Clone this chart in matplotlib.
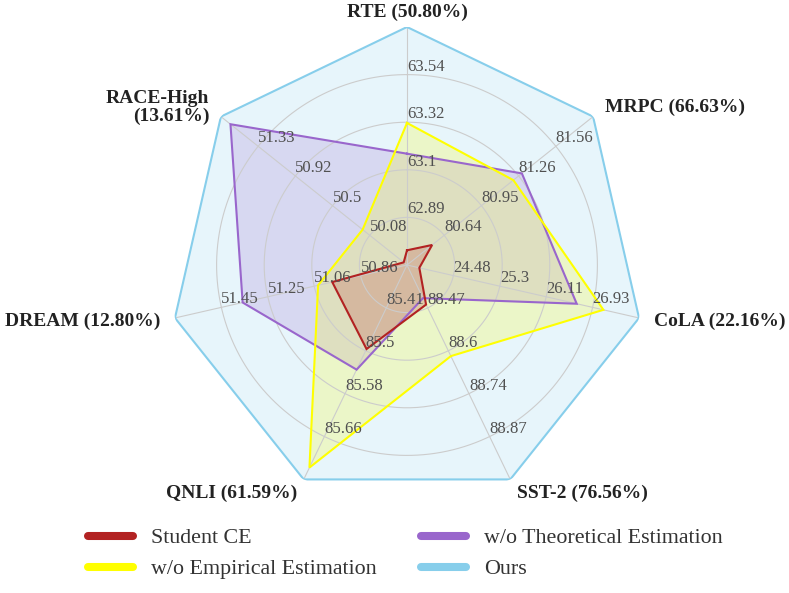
import numpy as np
import matplotlib
matplotlib.use('Agg')
import matplotlib.pyplot as plt
from matplotlib.lines import Line2D

plt.rcParams['font.family'] = ['Liberation Serif', 'DejaVu Serif']

# ---------------- data ----------------
axis_names = ['RTE (50.80%)', 'MRPC (66.63%)', 'CoLA (22.16%)', 'SST-2 (76.56%)',
              'QNLI (61.59%)', 'DREAM (12.80%)', 'RACE-High\n(13.61%)']
axis_min = [62.673, 80.333, 23.663, 88.337, 85.327, 50.663, 49.663]
axis_max = [63.757, 81.867, 27.747, 89.003, 85.743, 51.647, 51.747]
tick_labels = [
    ['62.89', '63.1', '63.32', '63.54'],
    ['80.64', '80.95', '81.26', '81.56'],
    ['24.48', '25.3', '26.11', '26.93'],
    ['88.47', '88.6', '88.74', '88.87'],
    ['85.41', '85.5', '85.58', '85.66'],
    ['50.86', '51.06', '51.25', '51.45'],
    ['50.08', '50.5', '50.92', '51.33'],
]
series_names = ['Student CE', 'w/o Theoretical Estimation', 'w/o Empirical Estimation', 'Ours']
student_ce = [62.74, 80.54, 23.88, 88.46, 85.49, 50.98, 49.70]
wo_theoretical = [63.18, 81.28, 26.65, 88.44, 85.53, 51.36, 51.64]
wo_empirical = [63.32, 81.21, 27.12, 88.62, 85.72, 51.04, 50.16]
ours = [63.757, 81.867, 27.747, 89.003, 85.743, 51.647, 51.747]

colors = {'Student CE': '#b22222', 'w/o Theoretical Estimation': '#9966cc',
          'w/o Empirical Estimation': '#ffff00', 'Ours': '#87ceeb'}

# ---------------- figure ----------------
W, H = 789, 593
fig = plt.figure(figsize=(W / 100, H / 100), dpi=100)
cx, cy, R = 407, 265, 238
ax = fig.add_axes([(cx - R) / W, (H - cy - R) / H, 2 * R / W, 2 * R / H], projection='polar')
ax.set_theta_zero_location('N')
ax.set_theta_direction(-1)
ax.set_ylim(0, 1)
ax.set_axis_off()

n = len(axis_names)
theta = np.arange(n) * 2 * np.pi / n
amin = np.array(axis_min)
amax = np.array(axis_max)


def norm(vals):
    return (np.array(vals) - amin) / (amax - amin)


# split circles and spokes
tt = np.linspace(0, 2 * np.pi, 400)
for k in range(1, 5):
    ax.plot(tt, np.full_like(tt, k / 5), color='#cccccc', lw=0.8, zorder=3)
for t in theta:
    ax.plot([t, t], [0, 1], color='#cccccc', lw=0.8, zorder=3)

# series
order = [('Ours', ours), ('w/o Theoretical Estimation', wo_theoretical),
         ('w/o Empirical Estimation', wo_empirical), ('Student CE', student_ce)]
for z, (name, vals) in enumerate(order):
    r = norm(vals)
    tc = np.append(theta, theta[0])
    rc = np.append(r, r[0])
    c = colors[name]
    ax.fill(tc, rc, color=c, alpha=0.2, lw=0, zorder=2 + z * 0.1)
    ax.plot(tc, rc, color=c, lw=1.5, zorder=4 + z, solid_joinstyle='miter')

# tick labels
for i, t in enumerate(theta):
    for k, lab in enumerate(tick_labels[i]):
        ax.text(t, (k + 1) / 5, lab, ha='left', va='bottom', fontsize=12,
                color='#505050', zorder=10)

# axis names
rn = 1 + 15 / R
for i, t in enumerate(theta):
    sx = np.sin(t)
    if abs(sx) < 0.05:
        ha = 'center'
    elif sx > 0:
        ha = 'left'
    else:
        ha = 'right'
    ax.text(t, rn, axis_names[i], ha=ha, va='center', fontsize=14,
            fontweight='bold', color='#222222', linespacing=1.05, zorder=10)

# legend
handles = [Line2D([0], [0], color=colors[nm], lw=5.8, solid_capstyle='round')
           for nm in series_names]
leg_order = [0, 2, 1, 3]
fig.legend([handles[i] for i in leg_order], [series_names[i] for i in leg_order],
           loc='upper left', bbox_to_anchor=(88 / W, 1 - 528 / H), ncol=2,
           frameon=False, fontsize=15.8, handlelength=2.05, handletextpad=0.8,
           columnspacing=2.05, labelspacing=0.48, borderpad=0, borderaxespad=0,
           labelcolor='#333333')

fig.savefig('out.png', dpi=100)
